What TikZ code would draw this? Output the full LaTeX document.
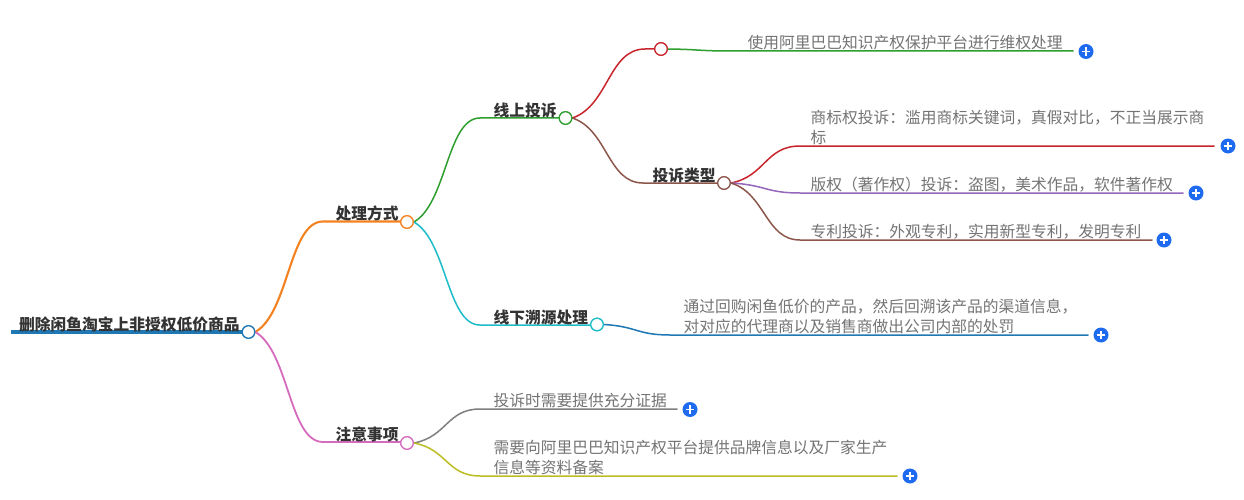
\documentclass[tikz,border=0pt]{standalone}
\usepackage{fontspec}
\usetikzlibrary{calc}
\setmainfont{Noto Sans CJK SC}
\definecolor{cRoot}{HTML}{1F78B4}
\definecolor{cOrange}{HTML}{F58220}
\definecolor{cPink}{HTML}{D66BBE}
\definecolor{cGreen}{HTML}{2E9E2E}
\definecolor{cTeal}{HTML}{1CBCC8}
\definecolor{cRed}{HTML}{C9252D}
\definecolor{cBrown}{HTML}{8C564B}
\definecolor{cPurple}{HTML}{9467BD}
\definecolor{cGray}{HTML}{7F7F7F}
\definecolor{cOlive}{HTML}{BCBD22}
\definecolor{cPlus}{HTML}{1F6BF0}
\definecolor{cText}{HTML}{747474}
\definecolor{cHead}{HTML}{333333}
\tikzset{
  x=1pt,y=-1pt,
  conn/.style={line width=1.5pt,line cap=round},
  joint/.style={circle,draw,fill=white,line width=1.2pt,minimum size=12.5pt,inner sep=0pt},
  head/.style={font=\fontsize{15.75}{18}\selectfont\bfseries,text=cHead,anchor=south west,inner sep=0pt},
  leaf/.style={font=\fontsize{15.75}{20.2}\selectfont,text=cText,anchor=south west,inner sep=0pt,align=left},
  plusbtn/.style={circle,fill=cPlus,minimum size=15pt,inner sep=0pt,path picture={
    \draw[white,line width=1.4pt] ([xshift=-4.2pt]path picture bounding box.center) -- ([xshift=4.2pt]path picture bounding box.center);
    \draw[white,line width=1.4pt] ([yshift=-4.2pt]path picture bounding box.center) -- ([yshift=4.2pt]path picture bounding box.center);}},
}
% #1 extra options, #2 colour, #3 start node, #4 coordinate where the curve turns flat, #5 end
\newcommand{\branch}[5][]{%
  \coordinate (mA) at ($(#3.east)!.5!(#4)$);
  \coordinate (mB) at ($(#3.east)!.18!(#4)$);
  \draw[conn,#2,#1] (#3.east) .. controls (mA |- mB) and (mA |- #4) .. (#4) -- (#5);}
\begin{document}
\begin{tikzpicture}
\useasboundingbox (0,0) rectangle (1244,500);
\fill[white] (0,0) rectangle (1244,500);
\coordinate (rootS) at (11,332);
\coordinate (a1) at (323,221.5);
\coordinate (a1e) at (402,221.5);
\coordinate (a2) at (323,442);
\coordinate (a2e) at (402,442);
\coordinate (b1) at (480,118);
\coordinate (b1e) at (560,118);
\coordinate (b2) at (480,325);
\coordinate (b2e) at (591,325);
\coordinate (c1) at (645,49);
\coordinate (c1e) at (655,49);
\coordinate (c2) at (643,183);
\coordinate (c2e) at (718,183);
\coordinate (d1) at (800,146);
\coordinate (d2) at (800,193);
\coordinate (d3) at (800,240);
\coordinate (e0) at (730,51);
\coordinate (e1) at (670,335);
\coordinate (f1) at (480,409);
\coordinate (f2) at (480,476);
\node[joint,draw=cRoot] (root) at (248.5,332) {};
\node[joint,draw=cOrange] (n1) at (407,222) {};
\node[joint,draw=cPink] (n2) at (407,443) {};
\node[joint,draw=cGreen] (n11) at (565.5,118) {};
\node[joint,draw=cTeal] (n12) at (597,324.5) {};
\node[joint,draw=cRed] (n111) at (661,49) {};
\node[joint,draw=cBrown] (n112) at (724,183) {};
\node[plusbtn] (p0) at (1086,51.5) {};
\node[plusbtn] (p1) at (1228,146) {};
\node[plusbtn] (p2) at (1196,193) {};
\node[plusbtn] (p3) at (1164,240) {};
\node[plusbtn] (p4) at (1101,335) {};
\node[plusbtn] (p5) at (690,409.5) {};
\node[plusbtn] (p6) at (910,476) {};
\coordinate (q0) at (1073,51);
\coordinate (q1) at (1214,146);
\coordinate (q2) at (1183,193);
\coordinate (q3) at (1152,240);
\coordinate (q4) at (1088,335);
\coordinate (q5) at (677,409);
\coordinate (q6) at (897,476);
\draw[cRoot,line width=3.5pt] (rootS) -- (root.center);
\branch[line width=2.1pt]{cOrange}{root}{a1}{a1e}
\branch[line width=1.8pt]{cPink}{root}{a2}{a2e}
\branch{cGreen}{n1}{b1}{b1e}
\branch{cTeal}{n1}{b2}{b2e}
\branch{cRed}{n11}{c1}{c1e}
\branch{cBrown}{n11}{c2}{c2e}
\branch{cRed}{n112}{d1}{q1}
\branch{cPurple}{n112}{d2}{q2}
\branch{cBrown}{n112}{d3}{q3}
\branch{cGreen}{n111}{e0}{q0}
\branch{cRoot}{n12}{e1}{q4}
\branch{cGray}{n2}{f1}{q5}
\branch{cOlive}{n2}{f2}{q6}
\node[joint,draw=cRoot] at (root) {};
\node[joint,draw=cOrange] at (n1) {};
\node[joint,draw=cPink] at (n2) {};
\node[joint,draw=cGreen] at (n11) {};
\node[joint,draw=cTeal] at (n12) {};
\node[joint,draw=cRed] at (n111) {};
\node[joint,draw=cBrown] at (n112) {};
\node[head] (t0) at (19,332.5) {删除闲鱼淘宝上非授权低价商品};
\node[head] (t1) at (335.5,221.5) {处理方式};
\node[head] (t2) at (335.5,442.5) {注意事项};
\node[head] (t3) at (493.5,118.5) {线上投诉};
\node[head] (t4) at (493.5,325) {线下溯源处理};
\node[head] (t5) at (652.5,183.5) {投诉类型};
\node[leaf] (l0) at (747.5,50) {使用阿里巴巴知识产权保护平台进行维权处理};
\node[leaf] (l1) at (810.5,145) {商标权投诉：滥用商标关键词，真假对比，不正当展示商\\标};
\node[leaf] (l2) at (810.5,192) {版权（著作权）投诉：盗图，美术作品，软件著作权};
\node[leaf] (l3) at (810.5,239) {专利投诉：外观专利，实用新型专利，发明专利};
\node[leaf] (l4) at (683.5,334) {通过回购闲鱼低价的产品，然后回溯该产品的渠道信息，\\对对应的代理商以及销售商做出公司内部的处罚};
\node[leaf] (l5) at (493.5,408) {投诉时需要提供充分证据};
\node[leaf] (l6) at (493.5,475) {需要向阿里巴巴知识产权平台提供品牌信息以及厂家生产\\信息等资料备案};
\end{tikzpicture}
\end{document}
